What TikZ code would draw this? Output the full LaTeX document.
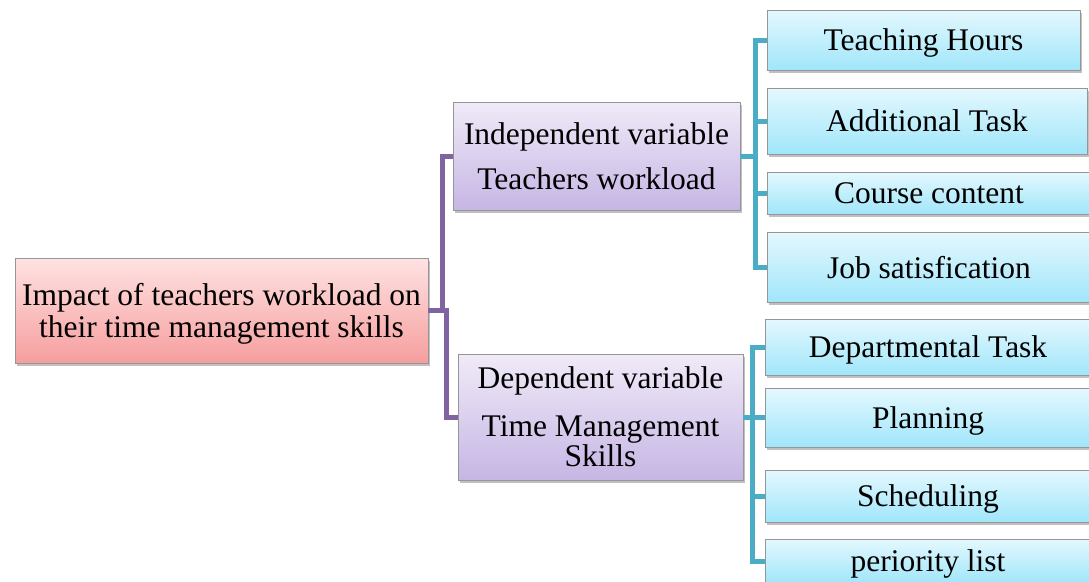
\documentclass[tikz,border=0pt]{standalone}
\usepackage{fontspec}
\setmainfont{Liberation Serif}
\usetikzlibrary{shadows,calc}
\definecolor{rootTop}{RGB}{255,226,226}
\definecolor{rootBot}{RGB}{246,158,158}
\definecolor{purTop}{RGB}{240,234,248}
\definecolor{purBot}{RGB}{198,182,228}
\definecolor{tealTop}{RGB}{228,248,254}
\definecolor{tealBot}{RGB}{160,230,250}
\definecolor{boxLine}{RGB}{150,150,150}
\definecolor{purLine}{RGB}{128,100,162}
\definecolor{tealLine}{RGB}{75,172,198}
\tikzset{
  box/.style={draw=boxLine, line width=0.8pt, anchor=north west, inner sep=0pt, outer sep=0pt,
    align=center, text depth=0pt, font=\fontsize{31.5}{32}\selectfont,
    drop shadow={shadow xshift=2pt, shadow yshift=-3pt, opacity=0.35, fill=black!70}},
  rootbox/.style={box, top color=rootTop, bottom color=rootBot},
  purbox/.style={box, top color=purTop, bottom color=purBot},
  tealbox/.style={box, top color=tealTop, bottom color=tealBot},
  purcon/.style={draw=purLine, line width=5pt},
  tealcon/.style={draw=tealLine, line width=5pt},
}
\begin{document}
\begin{tikzpicture}[x=1pt,y=-1pt]
\useasboundingbox (0,0) rectangle (1089,581);
\fill[white] (0,0) rectangle (1089,581);
% root
\node[rootbox, minimum width=413pt, minimum height=105pt] (root) at (15,258)
  {Impact of teachers workload on\\their time management skills};
% level 2
\node[purbox, minimum width=287pt, minimum height=108pt] (ind) at (453,102)
  {Independent variable\\[13pt]Teachers workload};
\node[purbox, minimum width=285pt, minimum height=126pt] (dep) at (458,354)
  {Dependent variable\\[16pt]Time Management\\[-2pt]Skills};
% level 3
\node[tealbox, minimum width=313pt, minimum height=60pt] (th) at (767,10) {Teaching Hours};
\node[tealbox, minimum width=320pt, minimum height=66pt] (at) at (767,88) {Additional Task};
\node[tealbox, minimum width=324pt, minimum height=42pt] (cc) at (767,172) {Course content};
\node[tealbox, minimum width=324pt, minimum height=70pt] (js) at (767,232) {Job satisfication};
\node[tealbox, minimum width=326pt, minimum height=56pt] (dt) at (765,319) {Departmental Task};
\node[tealbox, minimum width=326pt, minimum height=59pt] (pl) at (765,388) {Planning};
\node[tealbox, minimum width=326pt, minimum height=52pt] (sc) at (765,470) {Scheduling};
\node[tealbox, minimum width=326pt, minimum height=44pt] (pr) at (765,539) {periority list};
% connectors
\draw[purcon] (root.east) -- ($(root.east)+(14,0)$) |- (ind.west);
\draw[purcon] (root.east) -- ($(root.east)+(18,0)$) |- (dep.west);
\foreach \t in {th,at,cc,js}{
  \draw[tealcon] (ind.east) -- ($(ind.east)+(15,0)$) |- (\t.west);
}
\foreach \t in {dt,pl,sc,pr}{
  \draw[tealcon] (dep.east) -- ($(dep.east)+(9,0)$) |- (\t.west);
}
\end{tikzpicture}
\end{document}
